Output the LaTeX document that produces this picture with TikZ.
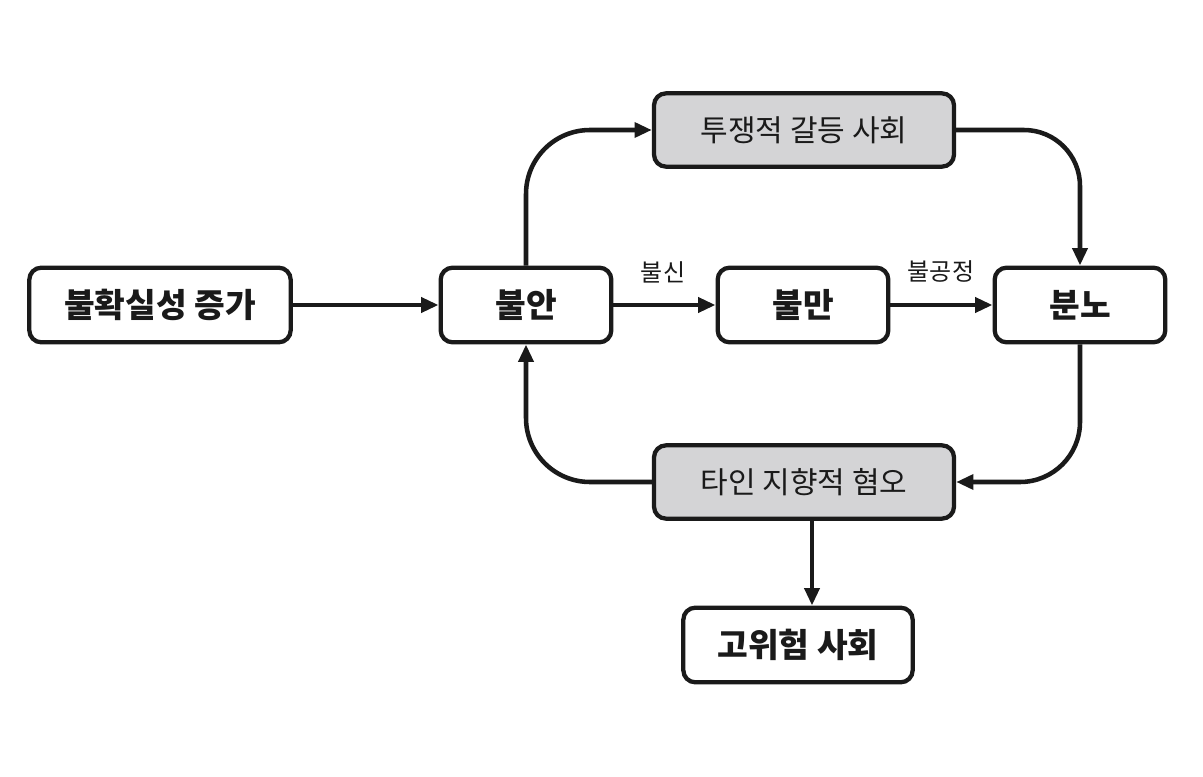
\documentclass[tikz,border=0pt]{standalone}
\usepackage{fontspec}
\setmainfont{Noto Sans CJK KR}
\usetikzlibrary{arrows.meta}
\definecolor{boxgray}{RGB}{212,212,214}
\definecolor{ink}{RGB}{26,26,26}
\begin{document}
\begin{tikzpicture}[x=0.75pt,y=-0.75pt,
 box/.style={draw=ink, line width=3.2pt, rounded corners=9pt, fill=white, align=center, inner sep=0pt, text=ink},
 mainbox/.style={box, font=\fontsize{25}{29}\selectfont\bfseries, minimum height=56pt},
 shadedbox/.style={box, fill=boxgray, font=\fontsize{22.5}{26}\selectfont, minimum width=225pt, minimum height=55pt},
 lab/.style={font=\fontsize{18}{21}\selectfont, text=ink},
 conn/.style={draw=ink, line width=3.4pt, -{Triangle[length=13pt,width=11pt]}},
]
\useasboundingbox[fill=white] (0,0) rectangle (1203,777);

\node[mainbox, minimum width=196pt] (unc) at (160,305) {불확실성 증가};
\node[mainbox, minimum width=128pt] (anx) at (526,305) {불안};
\node[mainbox, minimum width=128pt] (dis) at (803,305) {불만};
\node[mainbox, minimum width=128pt] (ang) at (1080,305) {분노};
\node[shadedbox] (con) at (804,130) {투쟁적 갈등 사회};
\node[shadedbox] (hat) at (804,482) {타인 지향적 혐오};
\node[mainbox, minimum width=172pt] (risk) at (798,645) {고위험 사회};

\node[lab] (l1) at (663,272) {불신};
\node[lab] (l2) at (941,272) {불공정};

\draw[conn] (unc) -- (anx);
\draw[conn] (anx) -- (dis);
\draw[conn] (dis) -- (ang);
\draw[conn, rounded corners=48pt] (anx.north) |- (con.west);
\draw[conn, rounded corners=42pt] (con.east) -| (ang.north);
\draw[conn, rounded corners=45pt] (ang.south) |- (hat.east);
\draw[conn, rounded corners=48pt] (hat.west) -| (anx.south);
\draw[conn] ([xshift=6pt]hat.south) -- ([xshift=6pt]hat.south |- risk.north);
\end{tikzpicture}
\end{document}
